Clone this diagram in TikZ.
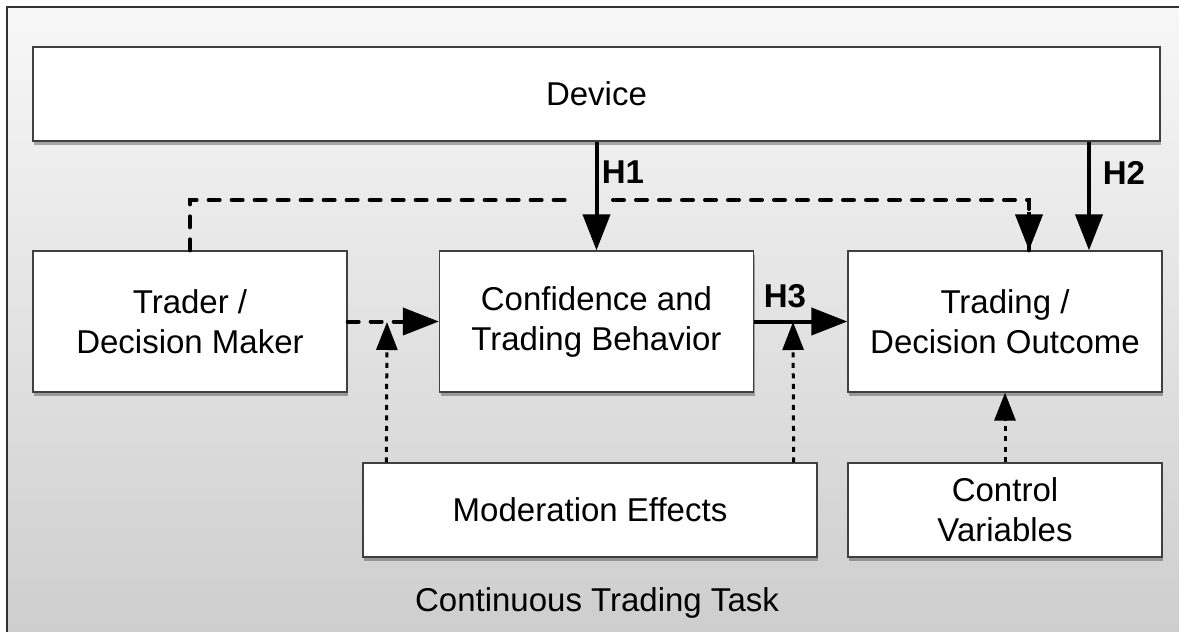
\documentclass[tikz,border=0pt]{standalone}
\usepackage{fontspec}
\setmainfont{Liberation Sans}
\usetikzlibrary{arrows.meta,shadows}
\begin{document}
\begin{tikzpicture}[x=1pt,y=-1pt,
  box/.style={draw=black!75, line width=1.3pt, fill=white, align=center,
    font=\fontsize{33}{40}\selectfont,
    drop shadow={shadow xshift=1pt, shadow yshift=-4pt, fill=black, opacity=0.3}},
  hlabel/.style={font=\fontsize{33}{40}\selectfont\bfseries},
  main/.style={line width=4pt, -{Triangle[length=36pt,width=27pt]}},
  dashedline/.style={line width=4pt, line cap=round, dash pattern=on 11pt off 12pt},
  dottedline/.style={line width=3pt, dash pattern=on 5pt off 5.5pt,
    -{Triangle[length=28pt,width=21pt]}}
]
\useasboundingbox (0,0) rectangle (1179,632);
% task frame
\shade[top color=black!3, bottom color=black!20] (7,7) rectangle (1200,660);
\draw[line width=2pt, black!80] (7,660) -- (7,7) -- (1200,7);

% boxes
\node[box, minimum width=1127pt, minimum height=94pt] (dev) at (596.5,94) {Device};
\node[box, minimum width=314pt, minimum height=141pt] (trader) at (190,321.5) {Trader /\\Decision Maker};
\node[box, minimum width=314pt, minimum height=141pt] (conf) at (596.5,321.5) {Confidence and\\Trading Behavior};
\node[box, minimum width=314pt, minimum height=141pt] (outc) at (1005,321.5) {Trading /\\Decision Outcome};
\node[box, minimum width=454pt, minimum height=94pt] (mod) at (590,510) {Moderation Effects};
\node[box, minimum width=314pt, minimum height=94pt] (ctrl) at (1005,510) {Control\\Variables};
\node[font=\fontsize{33}{40}\selectfont] (task) at (597,603) {Continuous Trading Task};

% dashed path from trader to outcome, broken where it crosses H1
\coordinate (c1) at (190,200);
\coordinate (j1) at (573,200);
\coordinate (j2) at (613,200);
\coordinate (c2) at (1029,200);
\draw[dashedline] (trader.north) -- (c1) -- (j1);
\draw[dashedline] (j2) -- (c2) -- ([xshift=24pt]outc.north);
\draw[line width=4pt, -{Triangle[length=36pt,width=27pt]}] ([yshift=-12pt]c2) -- ([xshift=24pt]outc.north);

% hypotheses
\draw[main] (dev.south -| conf.north) -- (conf.north);
\draw[main] ([xshift=84pt]dev.south -| outc.north) -- ([xshift=84pt]outc.north);
\draw[main] (conf.east) -- (outc.west);
\node[hlabel] (h1) at (623,172) {H1};
\node[hlabel] (h2) at (1124,173) {H2};
\node[hlabel] (h3) at (785,296) {H3};

% trader to behaviour
\draw[dashedline] (trader.east) -- ([xshift=-30pt]conf.west);
\draw[line width=4pt, -{Triangle[length=36pt,width=27pt]}] ([xshift=-34pt]conf.west) -- (conf.west);

% moderation and controls
\coordinate (m1) at (387,322);
\coordinate (m2) at (793,322);
\draw[dottedline] ([xshift=24pt]mod.north west) -- (m1);
\draw[dottedline] ([xshift=-24pt]mod.north east) -- (m2);
\draw[dottedline] (ctrl.north) -- (outc.south);
\end{tikzpicture}
\end{document}
